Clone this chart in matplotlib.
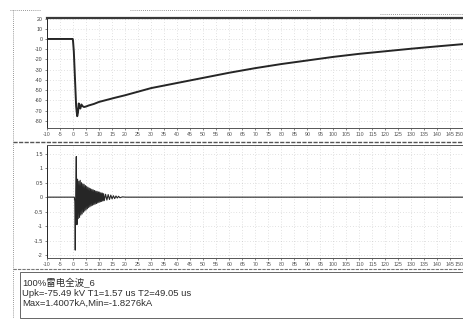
import matplotlib
matplotlib.use("Agg")
import matplotlib.pyplot as plt
from matplotlib.patches import Rectangle
from matplotlib.lines import Line2D

plt.rcParams['font.family'] = ['Liberation Sans', 'Noto Sans CJK SC', 'DejaVu Sans']

# Voltage waveform (kV) against time (us)
volt_t = [-10, -0.1, 0.0, 0.3, 0.6, 0.9, 1.2, 1.6, 1.9, 2.2, 2.5, 2.8, 3.2, 3.6, 4.2, 5.0,
          6.0, 8.0, 10, 13, 16, 20, 25, 30, 35, 40, 45, 50, 55, 60, 70, 80, 90,
          100, 110, 120, 130, 140, 150]
volt_v = [0.0, 0.0, -2.0, -12, -30, -48, -66, -75.49, -72, -63, -66, -68, -64, -65.5, -66.5, -66,
          -65, -63.5, -61.5, -59.5, -57.5, -55, -51.5, -48, -45.5, -43, -40.5, -38, -35.5, -33,
          -28.5, -24.5, -21, -17.5, -14.5, -12, -9.5, -7.2, -5.0]

# Current waveform (kA): quiet lead-in, spike, then ringing
curr_lead_t = [-10, 0.5, 0.7, 0.85, 1.05, 1.25, 1.5]
curr_lead_v = [0.0, 0.0, -0.15, -1.8276, 0.25, 1.4007, -0.95]
ring_t = [1.75, 2.0, 2.25, 2.5, 2.75, 3.0, 3.25, 3.5, 3.75, 4.0, 4.25, 4.5, 4.75, 5.0,
          5.25, 5.5, 5.75, 6.0, 6.25, 6.5, 6.75, 7.0, 7.25, 7.5, 7.75, 8.0, 8.25, 8.5,
          8.75, 9.0, 9.25, 9.5, 9.75, 10.0, 10.25, 10.5, 10.75, 11.0, 11.25, 11.5, 11.75,
          12.0, 12.5, 13.0, 13.5, 14.0, 14.5, 15.0, 15.5, 16.0, 16.5, 17.0, 17.5, 18.0,
          19.0, 20.0, 150.0]
ring_v = [0.62, -0.74, 0.55, -0.70, 0.58, -0.62, 0.50, -0.58, 0.46, -0.52, 0.44, -0.48,
          0.40, -0.44, 0.37, -0.40, 0.34, -0.36, 0.31, -0.33, 0.29, -0.30, 0.27, -0.28,
          0.25, -0.26, 0.23, -0.24, 0.21, -0.22, 0.20, -0.20, 0.18, -0.18, 0.17, -0.16,
          0.15, -0.15, 0.14, -0.13, 0.12, -0.12, 0.10, -0.10, 0.09, -0.08, 0.07, -0.06,
          0.05, -0.05, 0.04, -0.03, 0.03, -0.02, 0.01, 0.0, 0.0]

x_ticks = list(range(-10, 151, 5))
v_ticks = [20, 10, 0, -10, -20, -30, -40, -50, -60, -70, -80]
i_ticks = [1.5, 1.0, 0.5, 0.0, -0.5, -1.0, -1.5, -2.0]

title_line = "100%雷电全波_6"
info_line1 = "Upk=-75.49 kV T1=1.57 us T2=49.05 us"
info_line2 = "Max=1.4007kA,Min=-1.8276kA"

W, H = 464, 320
fig = plt.figure(figsize=(W / 100, H / 100), dpi=100)
fig.patch.set_facecolor('white')

def frac_rect(x0, y0, x1, y1):
    return [x0 / W, 1 - y1 / H, (x1 - x0) / W, (y1 - y0) / H]

ax_v = fig.add_axes(frac_rect(47, 18, 463.5, 128))
ax_i = fig.add_axes(frac_rect(47, 145, 463.5, 258))

ink = '#262626'
for ax in (ax_v, ax_i):
    ax.set_xlim(-10, 150)
    ax.set_xticks(x_ticks)
    ax.set_xticklabels([str(t) for t in x_ticks], fontsize=3.8, color='#3a3a3a')
    # keep the last label inside the page edge
    ax.get_xticklabels()[-1].set_horizontalalignment('right')
    ax.tick_params(axis='both', length=1.5, width=0.5, pad=1.5, colors='#555555')
    ax.grid(True, linestyle=(0, (1, 3)), linewidth=0.5, color='#a0a0a0', alpha=0.6)
    for side, sp in ax.spines.items():
        sp.set_linewidth(0.7)
        sp.set_color('#555555')
        sp.set_linestyle((0, (2, 1)))
    ax.spines['left'].set_linestyle('-')
    ax.spines['left'].set_color(ink)

ax_v.spines['top'].set_linewidth(1.6)
ax_v.spines['top'].set_color('#3a3a3a')

ax_v.plot(volt_t, volt_v, color=ink, linewidth=1.4)
ax_v.set_ylim(-87, 20.5)
ax_v.set_yticks(v_ticks)
ax_v.set_yticklabels([str(v) for v in v_ticks], fontsize=3.8, color='#3a3a3a')

ax_i.plot(curr_lead_t + ring_t, curr_lead_v + ring_v, color=ink, linewidth=0.8)
ax_i.set_ylim(-2.1, 1.8)
ax_i.set_yticks(i_ticks)
ax_i.set_yticklabels([f"{v:g}" for v in i_ticks], fontsize=3.8, color='#3a3a3a')

# page framing: outer dotted border, panel separator and the info box
def hline(y, x0, x1, **kw):
    fig.add_artist(Line2D([x0 / W, x1 / W], [1 - y / H, 1 - y / H], **kw))

def vline(x, y0, y1, **kw):
    fig.add_artist(Line2D([x / W, x / W], [1 - y0 / H, 1 - y1 / H], **kw))

dots = dict(color='#777777', linewidth=0.6, linestyle=(0, (1, 1.5)))
vline(13, 10, 318, **dots)
hline(10, 10, 40, **dots)
hline(10, 130, 310, **dots)
hline(14, 380, 464, **dots)
hline(141.5, 13, 464, color='#555555', linewidth=1.0, linestyle=(0, (3, 1)))
hline(269, 13, 464, color='#777777', linewidth=0.8, linestyle=(0, (3, 1)))

fig.add_artist(Rectangle((20 / W, 1 - 318 / H), (464 - 20) / W, (318 - 272) / H,
                         transform=fig.transFigure, fill=False,
                         edgecolor='#666666', linewidth=0.7))

for y, s in ((283, title_line), (293, info_line1), (303, info_line2)):
    fig.text(22 / W, 1 - y / H, s, fontsize=6.8, color='#2e2e2e',
             ha='left', va='center')

fig.savefig('out.png', dpi=100, facecolor='white')
